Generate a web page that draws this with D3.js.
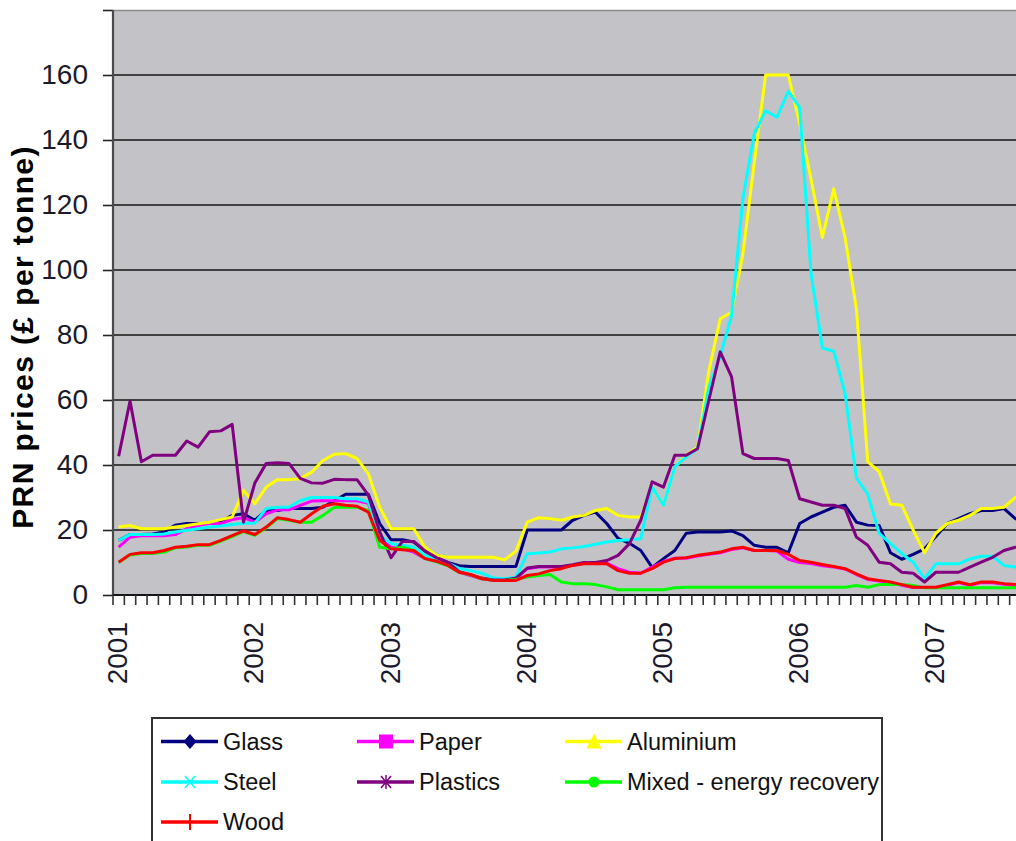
<!DOCTYPE html>
<html>
<head>
<meta charset="utf-8">
<script src="https://cdn.jsdelivr.net/npm/d3@7"></script>
<style>
  html, body { margin: 0; padding: 0; background: #fff; overflow: hidden; }
  svg { display: block; font-family: Arial, "Liberation Sans", sans-serif; }
</style>
</head>
<body>
<svg id="chart" width="1016" height="841"></svg>
<script>
// Monthly categories, January 2001 to December 2007
const months = d3.timeMonth.range(new Date(2001, 0, 1), new Date(2008, 0, 1)).map(d3.timeFormat("%Y-%m"));
const yearLabels = ["2001", "2002", "2003", "2004", "2005", "2006", "2007"];
const yTicks = [0, 20, 40, 60, 80, 100, 120, 140, 160, 180];

// PRN prices, £ per tonne, one value per month from Jan 2001
const glass = [16.8,18.6,18.6,18.8,19.4,21.5,22,22,22,22.5,24.5,25,
  23,26,26,26.6,26.6,26.6,27,29,31,31,31,22,
  17,17,16.3,13.5,11.5,10,9,8.8,8.8,8.8,8.8,8.8,
  20,20,20,20,23,24.5,25.5,22,17.4,15.9,13.7,8.5,
  11.2,13.7,19,19.4,19.4,19.4,19.7,18.3,15.3,14.7,14.7,13,
  22,24,25.5,27,27.6,22.4,21.5,21.4,13,11,12.5,14.2,
  18,22,23.5,25,26,26,26.6,23.5,22];
const paper = [14.7,17.8,18.2,18.2,18.2,18.6,20.4,21.4,22,22,23.2,23.8,
  22.4,25,26.2,26.2,27.6,28.9,29,29,29,29,28.2,17.8,
  14.7,14.2,13.2,11.2,10.6,9.6,7,6,5,4.5,4.5,5,
  8.1,8.6,8.6,8.6,9.1,9.8,9.8,9.8,8.1,7,6.7,8.6,
  10.3,11.3,11.3,12,12.5,13,14,14.5,13.7,13.7,13.5,11,
  10,9.7,9,8.6,8,6.3,4.8,4.3,3.8,3,2.3,2.3,
  2.3,3,3.8,3,3.8,3.8,3.3,3,3];
const aluminium = [20.9,21.4,20.4,20.4,20.4,20.9,21.4,21.9,22.4,23.2,24,32.2,
  28.1,33.2,35.5,35.5,35.8,37.8,41.4,43.3,43.5,42,37.3,27,
  20.4,20.4,20.4,14.7,12.2,11.6,11.6,11.6,11.6,11.6,10.8,13.5,
  22.4,23.8,23.5,23,24,24.5,26,26.6,24.5,24,24,33.2,
  27.6,39.4,43,45.5,69,85,87,105,133,160,160,160,
  145,128,110,125,110,88,41,38,28,27.6,20,13,
  19,22,23,24.5,26.6,26.6,27,30,31];
const steel = [16.8,18.6,18.6,18.6,18.8,19.4,19.9,20.4,20.9,21.2,21.7,22.1,
  22.1,26.6,27,27,29.1,30,30,30,29.6,29.6,28.6,18.3,
  15.8,15.3,14.7,12.2,11.2,9.8,8.2,7.5,6.7,5.2,5,5.5,
  12.7,12.9,13.2,14.2,14.5,14.9,15.6,16.3,16.8,17,17.3,33.2,
  27.6,39.4,42.5,45,64,73.5,86,122,142,149,147,155,
  150,99,76,75,62,36,31,19,15.8,12.7,10.1,5,
  9.6,9.6,9.6,11.1,11.9,11.9,9.1,8.6,8.6];
const plastics = [42.7,59.7,41,43,43,43,47.4,45.5,50.2,50.5,52.5,22.4,
  34.5,40.5,40.7,40.5,35.9,34.5,34.4,35.6,35.5,35.5,30.7,19.4,
  11.5,16.5,16.5,13.5,11.5,10,7.2,6.2,5.2,4.6,4.6,5.2,
  8.3,8.8,8.8,8.8,9.3,10,10,10.6,12.2,15.8,23,34.8,
  33.2,43,43,45,60,74.8,67.1,43.5,42,42,42,41.4,
  29.6,28.6,27.6,27.6,26.6,17.8,15.3,10.1,9.6,7,6.7,4,
  7,7,7,8.6,10.1,11.6,13.7,14.7,15];
const mixed = [10,12.3,12.8,12.8,13.2,14.5,14.8,15.3,15.3,16.6,18,19.5,
  18.4,20.7,23.5,23,22.4,22.4,24.5,27,27,27,26,14.7,
  14.2,14.7,13.7,11.2,10.2,9,7,6.2,5,4.5,4.5,4.8,
  5.5,6,6.3,4,3.5,3.5,3.2,2.5,1.6,1.6,1.6,1.6,
  1.6,2.2,2.4,2.4,2.4,2.4,2.4,2.4,2.4,2.4,2.4,2.4,
  2.4,2.4,2.4,2.4,2.4,2.9,2.4,3.2,3.2,3.2,2.9,2.2,
  2.2,2.2,2.2,2.2,2.2,2.2,2.2,2.2,2.2];
const wood = [10.1,12.5,13,13,13.7,14.7,15,15.5,15.5,16.8,18.3,19.7,
  18.6,20.9,23.8,23.2,22.4,25,27.3,28.1,27.6,27.3,25.5,16.8,
  14.2,13.9,13.7,11.2,10.4,9.1,7,6.3,5,4.5,4.5,4.5,
  6,6.5,7.5,8.1,9.1,9.6,9.6,9.6,7.5,6.7,6.7,8.1,
  10.1,11.2,11.5,12.2,12.7,13.2,14.2,14.7,13.7,13.7,13.7,12.5,
  10.6,10.1,9.4,8.8,8.1,6.5,5,4.5,4,3.2,2.4,2.4,
  2.4,3.2,4,3.2,4,4,3.5,3.2,3.2];

const seriesNames = ["Glass", "Paper", "Aluminium", "Steel", "Plastics", "Mixed - energy recovery", "Wood"];
const seriesColors = ["#000080", "#ff00ff", "#ffff00", "#00ffff", "#800080", "#00ff00", "#ff0000"];
const seriesMarkers = ["diamond", "square", "triangle", "cross", "star", "circle", "plus"];
const seriesValues = [glass, paper, aluminium, steel, plastics, mixed, wood];

const series = seriesNames.map((name, i) => ({
  name, color: seriesColors[i], marker: seriesMarkers[i], values: seriesValues[i]
}));

const svg = d3.select("#chart");
const plotLeft = 113, plotTop = 10, plotBottom = 595, step = 11.35;

const x = d3.scaleBand().domain(months).range([plotLeft, plotLeft + months.length * step]).padding(0);
const y = d3.scaleLinear().domain([0, 180]).range([plotBottom, plotTop]);
const plotRight = x.range()[1];
const cx = i => x(months[i]) + x.bandwidth() / 2;

// Plot area
svg.append("rect")
  .attr("x", plotLeft).attr("y", plotTop)
  .attr("width", plotRight - plotLeft).attr("height", plotBottom - plotTop)
  .attr("fill", "#c3c2c6");
svg.append("line")
  .attr("x1", plotLeft).attr("x2", plotRight).attr("y1", plotTop + 0.5).attr("y2", plotTop + 0.5)
  .attr("stroke", "#8a8a8a").attr("stroke-width", 1.5);

// Horizontal gridlines
svg.append("g").selectAll("line")
  .data(yTicks.filter(v => v > 0 && v < 180))
  .join("line")
  .attr("x1", plotLeft).attr("x2", plotRight)
  .attr("y1", d => y(d)).attr("y2", d => y(d))
  .attr("stroke", "#151515").attr("stroke-width", 1.6);

// Y axis
const yAxis = svg.append("g")
  .attr("transform", `translate(${plotLeft},0)`)
  .call(d3.axisLeft(y).tickValues(yTicks).tickSize(10).tickPadding(15)
    .tickFormat(d => d === 180 ? "" : d));
yAxis.select(".domain").remove();
yAxis.selectAll(".tick line").attr("stroke", "#222").attr("stroke-width", 1.6);
yAxis.selectAll(".tick text")
  .attr("font-size", 28).attr("fill", "#1a1a2a")
  .attr("font-family", "Arial, 'Liberation Sans', sans-serif");

svg.append("line")
  .attr("x1", plotLeft).attr("x2", plotLeft).attr("y1", plotTop).attr("y2", plotBottom)
  .attr("stroke", "#4a4a4a").attr("stroke-width", 2.2);

// X axis line and monthly tick marks at category boundaries
svg.append("line")
  .attr("x1", plotLeft).attr("x2", plotRight).attr("y1", plotBottom).attr("y2", plotBottom)
  .attr("stroke", "#151515").attr("stroke-width", 2);
svg.append("g").selectAll("line")
  .data(months)
  .join("line")
  .attr("x1", d => x(d)).attr("x2", d => x(d))
  .attr("y1", plotBottom).attr("y2", plotBottom + 10)
  .attr("stroke", "#333").attr("stroke-width", 1.6);

// Year labels, rotated
svg.append("g").selectAll("text")
  .data(yearLabels)
  .join("text")
  .attr("transform", d => `translate(${x(d + "-01") + x.bandwidth() / 2 - 1.5},622) rotate(-90)`)
  .attr("dy", "0.36em")
  .attr("text-anchor", "end")
  .attr("font-size", 28).attr("fill", "#1a1a2a")
  .text(d => d);

// Y axis title
svg.append("text")
  .attr("transform", "translate(33,337) rotate(-90)")
  .attr("text-anchor", "middle")
  .attr("font-size", 30).attr("font-weight", "bold").attr("fill", "#000")
  .attr("letter-spacing", 1.4)
  .text("PRN prices (£ per tonne)");

// Series lines
const line = d3.line().x((d, i) => cx(i)).y(d => y(d));
svg.append("g").selectAll("path")
  .data(series)
  .join("path")
  .attr("d", d => line(d.values))
  .attr("fill", "none")
  .attr("stroke", d => d.color)
  .attr("stroke-width", 3)
  .attr("stroke-linejoin", "round");

// Legend
const legend = svg.append("g");
legend.append("rect")
  .attr("x", 152).attr("y", 718).attr("width", 730).attr("height", 200)
  .attr("fill", "#fff").attr("stroke", "#333").attr("stroke-width", 2);

const colX = [161, 357, 565];
const rowY = [741.5, 782, 822];

function drawMarker(g, type, color) {
  if (type === "diamond") {
    g.append("path").attr("d", "M0,-7.5L6.5,0L0,7.5L-6.5,0Z").attr("fill", color);
  } else if (type === "square") {
    g.append("rect").attr("x", -7).attr("y", -7).attr("width", 14).attr("height", 14).attr("fill", color);
  } else if (type === "triangle") {
    g.append("path").attr("d", "M0,-8L7.5,7L-7.5,7Z").attr("fill", color);
  } else if (type === "cross") {
    g.append("path").attr("d", "M-5,-6L5,6M-5,6L5,-6").attr("stroke", color).attr("stroke-width", 1.5);
  } else if (type === "star") {
    g.append("path").attr("d", "M-5,-6L5,6M-5,6L5,-6M0,-7L0,7").attr("stroke", color).attr("stroke-width", 1.5);
  } else if (type === "circle") {
    g.append("circle").attr("r", 5.5).attr("fill", color);
  } else if (type === "plus") {
    g.append("path").attr("d", "M0,-8L0,8").attr("stroke", color).attr("stroke-width", 2);
  }
}

series.forEach((s, i) => {
  const gx = colX[i % 3], gy = rowY[Math.floor(i / 3)];
  const item = legend.append("g").attr("transform", `translate(${gx},${gy})`);
  item.append("line").attr("x1", 0).attr("x2", 57).attr("y1", 0).attr("y2", 0)
    .attr("stroke", s.color).attr("stroke-width", 3.5);
  drawMarker(item.append("g").attr("transform", "translate(29,0)"), s.marker, s.color);
  item.append("text")
    .attr("x", 62).attr("dy", "0.36em")
    .attr("font-size", 23.5).attr("fill", "#111")
    .text(s.name);
});
</script>
</body>
</html>
